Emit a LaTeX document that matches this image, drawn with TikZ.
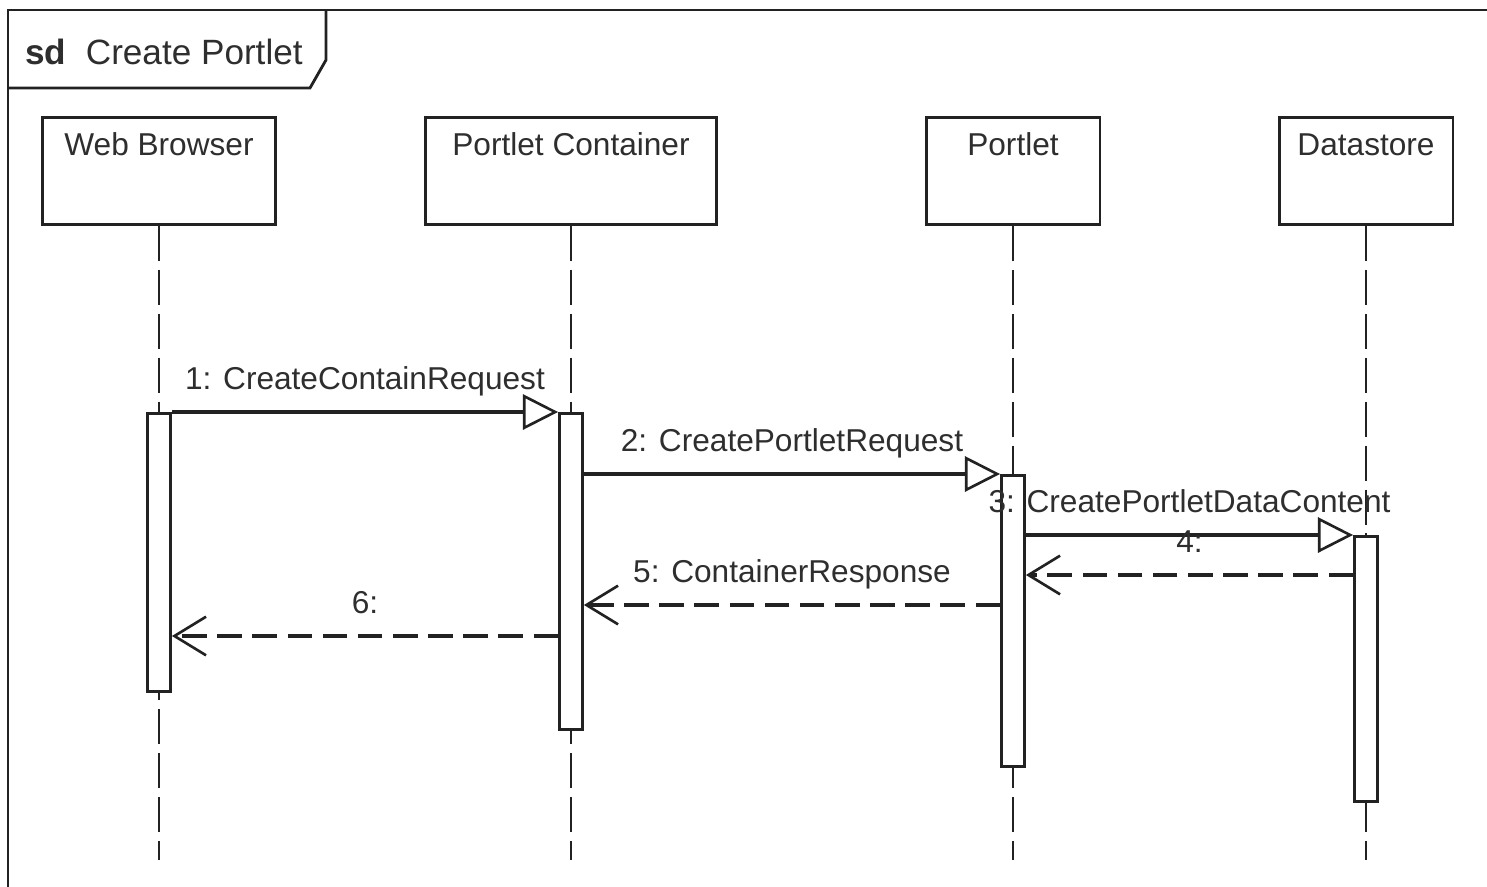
\documentclass[tikz,border=0pt]{standalone}
\usepackage{fontspec}
\setmainfont{Liberation Sans}
\usepackage{tikz}
\usetikzlibrary{arrows.meta,positioning,calc}
\definecolor{ink}{HTML}{222222}
\definecolor{inktxt}{HTML}{2E2E2E}

\begin{document}
\begin{tikzpicture}[x=0.02cm,y=-0.02cm,font=\fontsize{18}{20}\selectfont,text=inktxt,
  head/.style={draw=ink,line width=1.7pt,fill=white,minimum height=2.14cm,
    text height=0.49cm,text depth=1.11cm,inner ysep=0.27cm,inner xsep=0pt,anchor=north},
  actbar/.style={draw=ink,line width=1.6pt,fill=white,minimum width=0.46cm,inner sep=0pt,anchor=north},
  lifeline/.style={draw=ink,line width=1.5pt,dash pattern=on 20pt off 5pt},
  call/.style={draw=ink,line width=2.1pt,-{Triangle[open,length=20pt,width=20pt,line width=1.5pt]}},
  reply/.style={draw=ink,line width=1.8pt,dash pattern=on 14pt off 6pt,
    -{Straight Barb[length=18pt,width=22pt,line width=1.5pt]}},
  msg/.style={midway,anchor=base,yshift=0.46cm,inner sep=0pt}]
\clip (0,0) rectangle (1487,886);
% frame
\draw[ink,line width=1.6pt] (8,920) |- (1520,10);
\draw[ink,line width=1.6pt] (8,88) -- (310,88) -- (326,60) -- (326,10);
\node[anchor=base west,inner sep=0pt,font=\fontsize{20}{22}\selectfont] (title) at (25,64) {\textbf{sd}\ \ Create Portlet};
% lifelines
\foreach \n/\x/\w/\t in {wb/159/4.68/Web Browser,pc/571/5.84/Portlet Container,pt/1013/3.48/Portlet,ds/1366/3.48/Datastore}{
  \node[head,minimum width=\w cm] (\n Head) at (\x,116) {\t};
  \draw[lifeline] (\n Head.south) -- (\n Head.south |- 0,860);
}
\foreach \n/\y/\h in {wb/412/5.56,pc/412/6.32,pt/474/5.82,ds/535/5.30}
  \node[actbar,minimum height=\h cm] (\n Bar) at (\n Head.south |- 0,\y) {};
% messages
\coordinate (r4) at (0,575);
\coordinate (r5) at (0,605);
\coordinate (r6) at (0,636);
\draw[call] (wbBar.north east) -- node[msg] {1: CreateContainRequest} (pcBar.north west);
\draw[call] (pcBar.east |- ptBar.north) -- node[msg] {2: CreatePortletRequest} (ptBar.north west);
\draw[call] (ptBar.east |- dsBar.north) -- node[msg] {3: CreatePortletDataContent} (dsBar.north west);
\draw[reply] (dsBar.west |- r4) -- node[msg] {4:} (ptBar.east |- r4);
\draw[reply] (ptBar.west |- r5) -- node[msg] {5: ContainerResponse} (pcBar.east |- r5);
\draw[reply] (pcBar.west |- r6) -- node[msg] {6:} (wbBar.east |- r6);
\end{tikzpicture}
\end{document}
